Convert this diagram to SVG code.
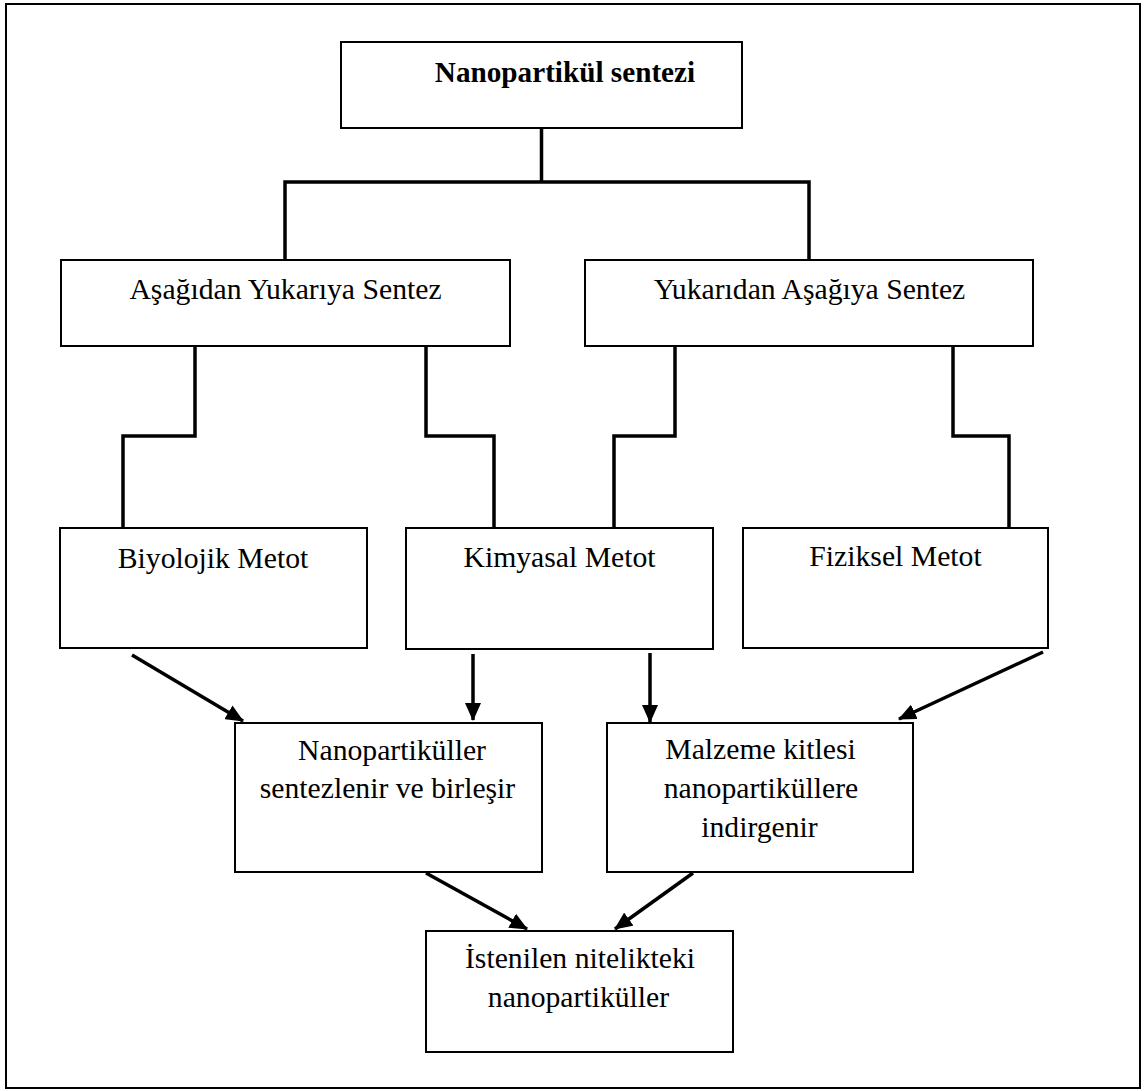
<svg xmlns="http://www.w3.org/2000/svg" width="1147" height="1091" viewBox="0 0 1147 1091">
  <style>
    .box { fill: #ffffff; stroke: #000000; stroke-width: 2; }
    .frame { fill: none; stroke: #000000; stroke-width: 2; }
    .link { fill: none; stroke: #000000; stroke-width: 3.5; stroke-linejoin: miter; stroke-linecap: square; }
    .arrow { fill: none; stroke: #000000; stroke-width: 3.5; marker-end: url(#ah); }
    text { font-family: "Liberation Serif", "Times New Roman", serif; font-size: 29.7px; fill: #000000; text-anchor: middle; }
    .bold { font-weight: bold; font-size: 29.2px; }
  </style>
  <defs>
    <marker id="ah" markerUnits="userSpaceOnUse" markerWidth="20" markerHeight="16" refX="17" refY="8" orient="auto">
      <path d="M0,0 L18,8 L0,16 Z" fill="#000000"/>
    </marker>
  </defs>
  <rect x="0" y="0" width="1147" height="1091" fill="#ffffff"/>
  <rect class="frame" x="6" y="4" width="1134" height="1084"/>

  <g id="connectors">
    <path class="link" d="M541.5,128 V182 M285,260 V182 H809 V260"/>
    <path class="link" d="M195,347 V436 H123 V528"/>
    <path class="link" d="M426,347 V436 H494 V528"/>
    <path class="link" d="M675,347 V436 H614 V528"/>
    <path class="link" d="M953,347 V436 H1009 V528"/>
    <line class="arrow" x1="132" y1="655" x2="243" y2="721"/>
    <line class="arrow" x1="473" y1="654" x2="473" y2="720"/>
    <line class="arrow" x1="650" y1="653" x2="650" y2="722"/>
    <line class="arrow" x1="1043" y1="652" x2="899" y2="719"/>
    <line class="arrow" x1="426" y1="873" x2="527" y2="929"/>
    <line class="arrow" x1="693" y1="873" x2="615" y2="929"/>
  </g>

  <g id="node-root">
    <rect class="box" x="341" y="42" width="401" height="86"/>
    <text class="bold" x="565" y="82">Nanopartikül sentezi</text>
  </g>
  <g id="node-bottom-up">
    <rect class="box" x="61" y="260" width="449" height="86"/>
    <text x="285.5" y="299">Aşağıdan Yukarıya Sentez</text>
  </g>
  <g id="node-top-down">
    <rect class="box" x="585" y="260" width="448" height="86"/>
    <text x="809.5" y="299">Yukarıdan Aşağıya Sentez</text>
  </g>
  <g id="node-bio">
    <rect class="box" x="60" y="528" width="307" height="120"/>
    <text x="213" y="568">Biyolojik Metot</text>
  </g>
  <g id="node-chem">
    <rect class="box" x="406" y="528" width="307" height="121"/>
    <text x="559.5" y="567">Kimyasal Metot</text>
  </g>
  <g id="node-phys">
    <rect class="box" x="743" y="528" width="305" height="120"/>
    <text x="895.5" y="566">Fiziksel Metot</text>
  </g>
  <g id="node-synth">
    <rect class="box" x="235" y="723" width="307" height="149"/>
    <text x="392" y="760">Nanopartiküller</text>
    <text x="387.5" y="798">sentezlenir ve birleşir</text>
  </g>
  <g id="node-reduce">
    <rect class="box" x="607" y="723" width="306" height="149"/>
    <text x="760.5" y="759">Malzeme kitlesi</text>
    <text x="761" y="798">nanopartiküllere</text>
    <text x="759.5" y="837">indirgenir</text>
  </g>
  <g id="node-result">
    <rect class="box" x="426" y="931" width="307" height="121"/>
    <text x="580" y="968">İstenilen nitelikteki</text>
    <text x="578.5" y="1007">nanopartiküller</text>
  </g>
</svg>
